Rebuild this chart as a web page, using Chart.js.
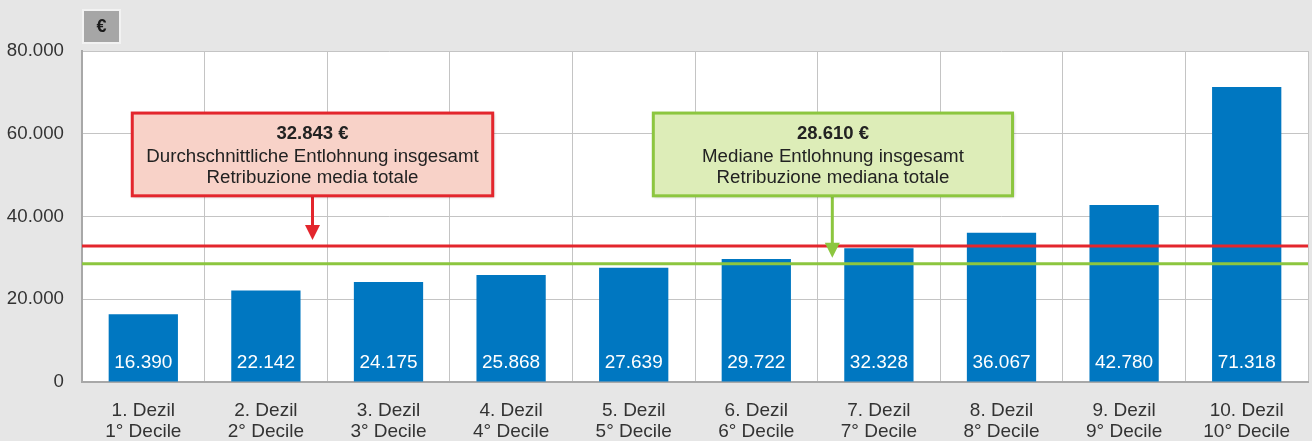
<!DOCTYPE html>
<html><head><meta charset="utf-8">
<script src="https://cdn.jsdelivr.net/npm/chart.js@4"></script>
<style>
html,body{margin:0;padding:0;background:#e6e6e6;}
#wrap{position:relative;width:1312px;height:441px;}
</style></head>
<body><div id="wrap"><canvas id="c" width="1312" height="441"></canvas></div>
<script>
const categories = [
  ["1. Dezil","1° Decile"],["2. Dezil","2° Decile"],["3. Dezil","3° Decile"],["4. Dezil","4° Decile"],["5. Dezil","5° Decile"],
  ["6. Dezil","6° Decile"],["7. Dezil","7° Decile"],["8. Dezil","8° Decile"],["9. Dezil","9° Decile"],["10. Dezil","10° Decile"]
];
const values = [16390, 22142, 24175, 25868, 27639, 29722, 32328, 36067, 42780, 71318];
const meanValue = 32843;
const medianValue = 28610;
const meanText = ["32.843 €", "Durchschnittliche Entlohnung insgesamt", "Retribuzione media totale"];
const medianText = ["28.610 €", "Mediane Entlohnung insgesamt", "Retribuzione mediana totale"];
const yTicks = [0, 20000, 40000, 60000, 80000];
const unitLabel = "€";

const FONT = "'Liberation Sans', Arial, sans-serif";
const fmt = v => v.toLocaleString('de-DE');

const bgPlugin = {
  id: 'bg',
  beforeDraw(chart) {
    const {ctx, chartArea: a} = chart;
    ctx.save();
    ctx.fillStyle = '#e6e6e6';
    ctx.fillRect(0, 0, chart.width, chart.height);
    ctx.fillStyle = '#ffffff';
    ctx.fillRect(a.left, a.top, a.right - a.left, a.bottom - a.top);
    // unit box
    ctx.fillStyle = '#f2f2f2';
    ctx.fillRect(a.left, 9, 39, 35);
    ctx.fillStyle = '#a6a6a6';
    ctx.fillRect(a.left + 2, 11, 35, 31);
    ctx.fillStyle = '#1a1a1a';
    ctx.font = 'bold 18px ' + FONT;
    ctx.textAlign = 'center';
    ctx.textBaseline = 'middle';
    ctx.fillText(unitLabel, a.left + 19.5, 27);
    ctx.restore();
  }
};

function drawBox(ctx, x1, y1, x2, y2, fill, stroke, lines) {
  ctx.save();
  ctx.shadowColor = 'rgba(0,0,0,0.25)';
  ctx.shadowBlur = 3; ctx.shadowOffsetX = 1; ctx.shadowOffsetY = 1;
  ctx.fillStyle = fill;
  ctx.fillRect(x1, y1, x2 - x1, y2 - y1);
  ctx.restore();
  ctx.save();
  ctx.strokeStyle = stroke; ctx.lineWidth = 3;
  ctx.strokeRect(x1, y1, x2 - x1, y2 - y1);
  ctx.fillStyle = '#222';
  ctx.textAlign = 'center'; ctx.textBaseline = 'middle';
  const cx = (x1 + x2) / 2;
  ctx.font = 'bold 18.5px ' + FONT;
  ctx.fillText(lines[0], cx, y1 + 21);
  ctx.font = '18.7px ' + FONT;
  ctx.fillText(lines[1], cx, y1 + 44);
  ctx.fillText(lines[2], cx, y1 + 65);
  ctx.restore();
}
function drawArrow(ctx, x, yTop, yTip, color) {
  ctx.save();
  ctx.strokeStyle = color; ctx.fillStyle = color; ctx.lineWidth = 3;
  ctx.beginPath(); ctx.moveTo(x, yTop); ctx.lineTo(x, yTip - 12); ctx.stroke();
  ctx.beginPath(); ctx.moveTo(x - 7.5, yTip - 15); ctx.lineTo(x + 7.5, yTip - 15); ctx.lineTo(x, yTip); ctx.closePath(); ctx.fill();
  ctx.restore();
}

const overlayPlugin = {
  id: 'overlay',
  afterDatasetsDraw(chart) {
    const {ctx, chartArea: a, scales: {x, y}} = chart;
    const meta = chart.getDatasetMeta(0);
    ctx.save();
    ctx.fillStyle = '#ffffff';
    ctx.font = '19px ' + FONT;
    ctx.textAlign = 'center'; ctx.textBaseline = 'middle';
    meta.data.forEach((bar, i) => {
      ctx.fillText(fmt(values[i]), bar.x, a.bottom - 19);
    });
    ctx.restore();
    const yMean = y.getPixelForValue(meanValue);
    const yMed = y.getPixelForValue(medianValue);
    ctx.save();
    ctx.lineWidth = 3;
    ctx.strokeStyle = '#e3262d';
    ctx.beginPath(); ctx.moveTo(a.left, yMean); ctx.lineTo(a.right, yMean); ctx.stroke();
    ctx.strokeStyle = '#8cc63f';
    ctx.beginPath(); ctx.moveTo(a.left, yMed); ctx.lineTo(a.right, yMed); ctx.stroke();
    ctx.restore();
    const bTop = y.getPixelForValue(65000), bBot = y.getPixelForValue(45000);
    const r1 = x.getPixelForValue(-0.09), r2 = x.getPixelForValue(2.85);
    const g1 = x.getPixelForValue(4.16), g2 = x.getPixelForValue(7.09);
    drawArrow(ctx, x.getPixelForValue(1.38), bBot, yMean - 6, '#e3262d');
    drawArrow(ctx, x.getPixelForValue(5.62), bBot, yMed - 6, '#8cc63f');
    drawBox(ctx, r1, bTop, r2, bBot, '#f8d2c8', '#e3262d', meanText);
    drawBox(ctx, g1, bTop, g2, bBot, '#ddedb8', '#8cc63f', medianText);
  }
};

new Chart(document.getElementById('c'), {
  type: 'bar',
  data: {
    labels: categories,
    datasets: [{
      data: values,
      backgroundColor: '#0077c1',
      borderWidth: 0,
      barPercentage: 0.565,
      categoryPercentage: 1.0
    }]
  },
  options: {
    responsive: false,
    animation: false,
    events: [],
    layout: { padding: { top: 51, right: 4, left: 0, bottom: 0 } },
    plugins: { legend: { display: false }, tooltip: { enabled: false } },
    scales: {
      x: {
        afterFit(s) { s.height = 59; },
        grid: { color: '#c4c4c4', lineWidth: 1, drawTicks: false, offset: true },
        border: { color: '#a8a8a8', width: 2 },
        ticks: { color: '#333333', font: { family: FONT, size: 19, lineHeight: 1.1 }, padding: 18, maxRotation: 0, autoSkip: false }
      },
      y: {
        min: 0, max: 80000,
        afterFit(s) { s.width = 82; },
        afterBuildTicks(s) { s.ticks = yTicks.map(v => ({ value: v })); },
        grid: { color: '#c4c4c4', lineWidth: 1, drawTicks: false },
        border: { color: '#a8a8a8', width: 2 },
        ticks: { color: '#333333', font: { family: FONT, size: 18.7 }, padding: 18, callback: v => fmt(v) }
      }
    }
  },
  plugins: [bgPlugin, overlayPlugin]
});
</script>
</body></html>
